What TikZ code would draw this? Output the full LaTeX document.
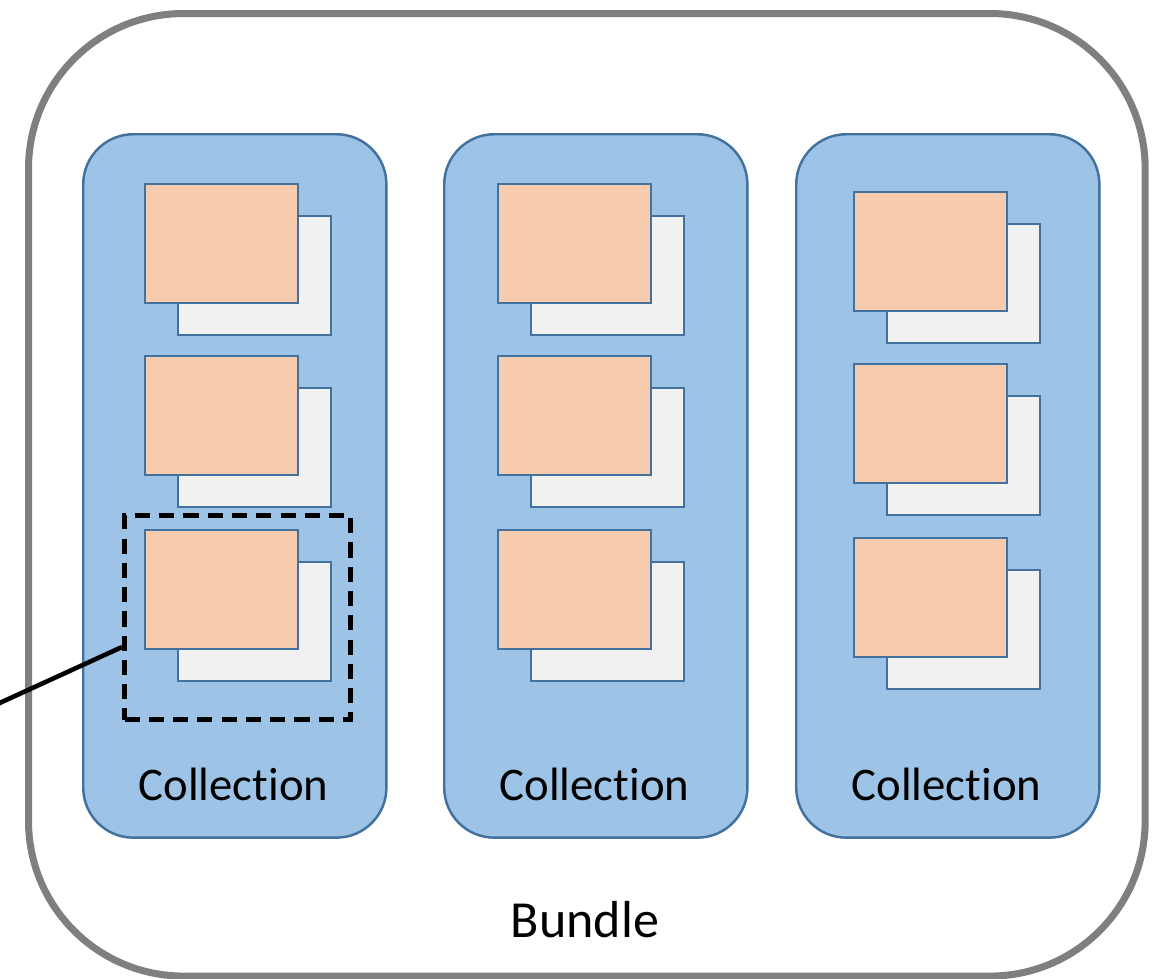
\documentclass[tikz,border=0pt]{standalone}
\usepackage{fontspec}
\setmainfont[RawFeature=-liga]{Carlito}
\definecolor{bundlegray}{HTML}{7F7F7F}
\definecolor{collblue}{HTML}{41719C}
\definecolor{collfill}{HTML}{9DC3E6}
\definecolor{papergray}{HTML}{F1F1F1}
\definecolor{recordorange}{HTML}{F7CBAD}
\begin{document}
\begin{tikzpicture}[x=0.01cm,y=-0.01cm,
  bundlebox/.style={draw=bundlegray, line width=2.0pt, rounded corners=1.55cm,
    inner sep=0pt, minimum width=11.16cm, minimum height=9.62cm, anchor=north west},
  collbox/.style={draw=collblue, fill=collfill, line width=0.7pt, rounded corners=0.5cm,
    inner sep=0pt, minimum width=3.03cm, minimum height=7.03cm, anchor=north west},
  paper/.style={draw=collblue, fill=papergray, line width=0.65pt,
    inner sep=0pt, minimum width=1.53cm, minimum height=1.19cm, anchor=north west},
  record/.style={paper, fill=recordorange},
  selbox/.style={draw=black, line width=1.45pt, dash pattern=on 4.3pt off 2.6pt,
    inner sep=0pt, minimum width=2.26cm, minimum height=2.04cm, anchor=north west},
  colllabel/.style={font=\fontsize{13.3}{16}\selectfont, anchor=base, inner sep=0pt},
  bundlelabel/.style={font=\fontsize{14.8}{18}\selectfont, anchor=base, inner sep=0pt}
]
\useasboundingbox (0,0) rectangle (1163,978);

% outer bundle
\node[bundlebox] (bundle) at (25,10) {};
\node[bundlelabel] (bundletext) at (585,937) {Bundle};

% three collections, each holding three records with their papers behind
\foreach \i/\cx/\rx/\ry in {1/82/144/183, 2/443/497/183, 3/795/853/191} {
  \node[collbox] (coll\i) at (\cx,133) {};
  \node[colllabel] (colltext\i) at ({\cx+151.5},800) {Collection};
  \foreach \j/\dy in {1/0, 2/172, 3/346} {
    \node[paper]  (paper-\i-\j)  at ({\rx+33},{\ry+\dy+32}) {};
    \node[record] (record-\i-\j) at (\rx,{\ry+\dy}) {};
  }
}

% highlighted record and its pointer
\node[selbox] (sel) at (122,513) {};
\coordinate (hook) at (122,647);
\coordinate (tail) at (-20,712);
\draw[line width=1.3pt] (hook) -- (tail);
\end{tikzpicture}
\end{document}
